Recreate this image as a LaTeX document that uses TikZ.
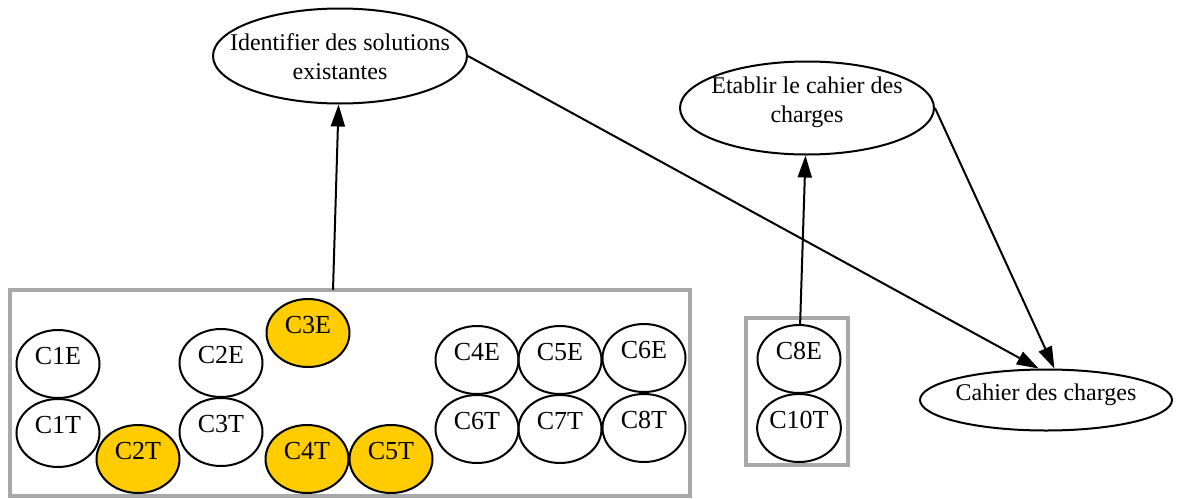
\documentclass[tikz,border=0pt]{standalone}
\usepackage{fontspec}
\setmainfont{Liberation Serif}
\usetikzlibrary{arrows.meta,shapes.geometric}
\definecolor{goldfill}{HTML}{FFCC00}
\definecolor{clgray}{HTML}{A8A8A8}
\begin{document}
\begin{tikzpicture}[x=1pt,y=-1pt,
 circ/.style={ellipse,draw,line width=2pt,minimum width=83pt,minimum height=68pt,inner sep=0pt,font=\fontsize{26}{30}\selectfont},
 goldnode/.style={circ,fill=goldfill},
 task/.style={ellipse,draw,line width=2pt,inner sep=0pt},
 tasklabel/.style={align=center,inner sep=0pt,font=\fontsize{24}{29}\selectfont},
 cluster/.style={draw=clgray,line width=4pt,inner sep=0pt},
 edge/.style={line width=2pt,-{Triangle[length=22pt,width=14pt]}}]
\useasboundingbox (0,0) rectangle (1178,498);
% clusters
\node[cluster,minimum width=680pt,minimum height=206pt] (cl1) at (350,393) {};
\node[cluster,minimum width=102pt,minimum height=147pt] (cl2) at (797,391.5) {};
% task nodes
\node[task,minimum width=254pt,minimum height=95pt] (ident) at (340,56) {};
\node[tasklabel] (identtext) at (340,57) {Identifier des solutions\\existantes};
\node[task,minimum width=254pt,minimum height=93pt] (etab) at (807,108) {};
\node[tasklabel] (etabtext) at (807,102) {Etablir le cahier des\\charges};
\node[task,minimum width=252pt,minimum height=61pt] (cahier) at (1046,400) {};
\node[tasklabel] (cahiertext) at (1046,395) {Cahier des charges};
% circles
\node[circ] (c1e) at (58,364) {\smash{C1E}};
\node[circ] (c1t) at (58,433) {\smash{C1T}};
\node[goldnode] (c2t) at (138,459) {\smash{C2T}};
\node[circ] (c2e) at (221,363) {\smash{C2E}};
\node[circ] (c3t) at (221,432) {\smash{C3T}};
\node[goldnode] (c3e) at (308,333) {\smash{C3E}};
\node[goldnode] (c4t) at (307,459) {\smash{C4T}};
\node[goldnode] (c5t) at (391,459) {\smash{C5T}};
\node[circ] (c4e) at (477,360) {\smash{C4E}};
\node[circ] (c5e) at (560,360) {\smash{C5E}};
\node[circ] (c6e) at (644,358) {\smash{C6E}};
\node[circ] (c6t) at (477,429) {\smash{C6T}};
\node[circ] (c7t) at (560,429) {\smash{C7T}};
\node[circ] (c8t) at (644,428) {\smash{C8T}};
\node[circ] (c8e) at (799,359) {\smash{C8E}};
\node[circ] (c10t) at (799,428) {\smash{C10T}};
% edges
\coordinate (cl1top) at (333,290);
\draw[edge] (cl1top) -- (ident);
\draw[edge] (c8e) -- (etab);
\draw[edge] (ident.east) -- (cahier.103);
\draw[edge] (etab.east) -- (cahier.75);
\end{tikzpicture}
\end{document}
